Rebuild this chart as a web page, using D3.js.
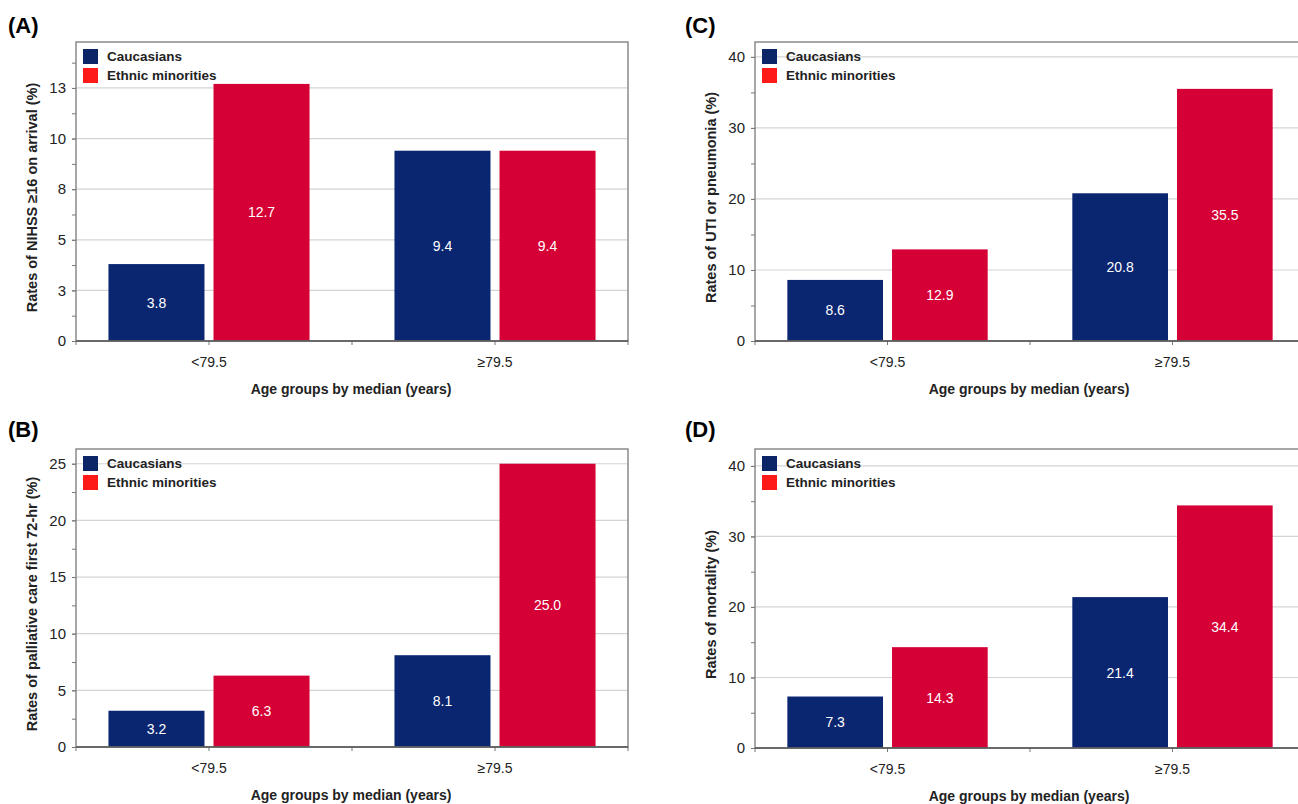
<!DOCTYPE html>
<html>
<head>
<meta charset="utf-8">
<script src="https://cdn.jsdelivr.net/npm/d3@7"></script>
<style>
  body { margin: 0; background: #fff; }
  text { font-family: "Liberation Sans", Arial, sans-serif; }
</style>
</head>
<body>
<script>
// categories / series
const ageGroups = ["<79.5", "≥79.5"];
const seriesNames = ["Caucasians", "Ethnic minorities"];

// values per panel (Caucasians, Ethnic minorities) by age group
const nihssCaucasians = [3.8, 9.4];
const nihssMinorities = [12.7, 9.4];
const palliativeCaucasians = [3.2, 8.1];
const palliativeMinorities = [6.3, 25.0];
const utiCaucasians = [8.6, 20.8];
const utiMinorities = [12.9, 35.5];
const mortalityCaucasians = [7.3, 21.4];
const mortalityMinorities = [14.3, 34.4];

// y tick values
const nihssTicks = [0, 2.5, 5, 7.5, 10, 12.5];
const palliativeTicks = [0, 5, 10, 15, 20, 25];
const utiTicks = [0, 10, 20, 30, 40];
const mortalityTicks = [0, 10, 20, 30, 40];

const barColors = ["#0b2670", "#d50035"];
const legendColors = ["#0b2566", "#ff1a1a"];

const panels = [
  {letter: "(A)", yTitle: "Rates of NIHSS ≥16 on arrival (%)", vals: [nihssCaucasians, nihssMinorities],
   ticks: nihssTicks, minor: 1.25, yMax: 14.77, fmt: d3.format(".0f"),
   left: 76, right: 628, top: 42, bottom: 341, lx: 8, ly: 33},
  {letter: "(B)", yTitle: "Rates of palliative care first 72-hr (%)", vals: [palliativeCaucasians, palliativeMinorities],
   ticks: palliativeTicks, minor: 2.5, yMax: 26.3, fmt: d3.format("d"),
   left: 76, right: 628, top: 449, bottom: 747, lx: 8, ly: 437},
  {letter: "(C)", yTitle: "Rates of UTI or pneumonia (%)", vals: [utiCaucasians, utiMinorities],
   ticks: utiTicks, minor: 5, yMax: 42.1, fmt: d3.format("d"),
   left: 755, right: 1305, top: 42, bottom: 341, lx: 685, ly: 33},
  {letter: "(D)", yTitle: "Rates of mortality (%)", vals: [mortalityCaucasians, mortalityMinorities],
   ticks: mortalityTicks, minor: 5, yMax: 42.4, fmt: d3.format("d"),
   left: 755, right: 1305, top: 449, bottom: 748, lx: 685, ly: 437}
];

const svg = d3.select("body").append("svg")
  .attr("width", 1298).attr("height", 804);

panels.forEach(function (p) { drawPanel(p); });

function drawPanel(p) {
  const g = svg.append("g");

  const x0 = d3.scaleBand().domain(ageGroups).range([p.left, p.right])
    .paddingInner(0.297).paddingOuter(0.1135);
  const x1 = d3.scaleBand().domain(seriesNames).range([0, x0.bandwidth()])
    .paddingInner(0.086);
  const y = d3.scaleLinear().domain([0, p.yMax]).range([p.bottom, p.top]);

  // panel letter
  g.append("text").attr("x", p.lx).attr("y", p.ly)
    .attr("font-size", 22).attr("font-weight", "bold").text(p.letter);

  // gridlines
  g.selectAll(".grid").data(p.ticks.filter(d => d > 0)).enter().append("line")
    .attr("x1", p.left).attr("x2", p.right)
    .attr("y1", d => y(d)).attr("y2", d => y(d))
    .attr("stroke", "#d4d4d4").attr("stroke-width", 1.2);

  // bars
  const rows = ageGroups.map(function (a, i) {
    return {group: a, items: seriesNames.map((s, j) => ({s: s, j: j, v: p.vals[j][i]}))};
  });
  const grp = g.selectAll(".grp").data(rows).enter().append("g")
    .attr("transform", d => "translate(" + x0(d.group) + ",0)");
  grp.selectAll("rect").data(d => d.items).enter().append("rect")
    .attr("x", d => x1(d.s)).attr("width", x1.bandwidth())
    .attr("y", d => y(d.v)).attr("height", d => y(0) - y(d.v))
    .attr("fill", d => barColors[d.j]);
  grp.selectAll("text").data(d => d.items).enter().append("text")
    .attr("x", d => x1(d.s) + x1.bandwidth() / 2)
    .attr("y", d => (y(d.v) + y(0)) / 2 + 5)
    .attr("text-anchor", "middle").attr("fill", "#fff").attr("font-size", 14)
    .text(d => d.v.toFixed(1));

  // frame
  g.append("rect").attr("x", p.left).attr("y", p.top)
    .attr("width", p.right - p.left).attr("height", p.bottom - p.top)
    .attr("fill", "none").attr("stroke", "#8a8a8a").attr("stroke-width", 1.5);

  // y axis (major + minor ticks)
  const minorTicks = d3.range(0, p.yMax, p.minor);
  const yMinor = g.append("g").attr("transform", "translate(" + p.left + ",0)")
    .call(d3.axisLeft(y).tickValues(minorTicks).tickSize(4).tickFormat(""));
  yMinor.select(".domain").remove();
  yMinor.selectAll("line").attr("stroke", "#777");
  const yAx = g.append("g").attr("transform", "translate(" + p.left + ",0)")
    .call(d3.axisLeft(y).tickValues(p.ticks).tickSize(4).tickPadding(6).tickFormat(p.fmt));
  yAx.select(".domain").remove();
  yAx.selectAll("line").attr("stroke", "#777");
  yAx.selectAll("text").attr("font-size", 15).attr("fill", "#222")
    .attr("font-family", "'Liberation Sans', Arial, sans-serif");

  // x axis: ticks at group centres and boundaries
  const bounds = [p.left, (x0(ageGroups[0]) + x0.bandwidth() + x0(ageGroups[1])) / 2, p.right];
  g.selectAll(".xb").data(bounds).enter().append("line")
    .attr("x1", d => d).attr("x2", d => d).attr("y1", p.bottom).attr("y2", p.bottom + 4)
    .attr("stroke", "#777");
  const xAx = g.append("g").attr("transform", "translate(0," + p.bottom + ")")
    .call(d3.axisBottom(x0).tickSize(4).tickPadding(12));
  xAx.select(".domain").remove();
  xAx.selectAll("line").attr("stroke", "#777");
  xAx.selectAll("text").attr("font-size", 14).attr("fill", "#222")
    .attr("font-family", "'Liberation Sans', Arial, sans-serif");
  g.append("line").attr("x1", p.left).attr("x2", p.right)
    .attr("y1", p.bottom).attr("y2", p.bottom)
    .attr("stroke", "#555").attr("stroke-width", 1.5);

  // x title
  g.append("text").attr("x", (p.left + p.right) / 2 - 1)
    .attr("y", p.bottom + 53).attr("text-anchor", "middle")
    .attr("font-size", 14).attr("font-weight", "bold").attr("fill", "#222")
    .text("Age groups by median (years)");

  // y title
  g.append("text")
    .attr("transform", "translate(" + (p.left - 39) + "," + ((p.top + p.bottom) / 2 + 6) + ") rotate(-90)")
    .attr("text-anchor", "middle").attr("font-size", 14.5).attr("font-weight", "bold").attr("fill", "#222")
    .text(p.yTitle);

  // legend
  const leg = g.append("g").attr("transform", "translate(" + (p.left + 7) + "," + (p.top + 7) + ")");
  const lg = leg.selectAll("g").data(seriesNames).enter().append("g")
    .attr("transform", (d, i) => "translate(0," + (i * 19) + ")");
  lg.append("rect").attr("width", 15).attr("height", 15)
    .attr("fill", (d, i) => legendColors[i]);
  lg.append("text").attr("x", 24).attr("y", 12)
    .attr("font-size", 13.5).attr("font-weight", 600)
    .attr("font-family", "'Open Sans', sans-serif").attr("fill", "#222")
    .text(d => d);
}
</script>
</body>
</html>
